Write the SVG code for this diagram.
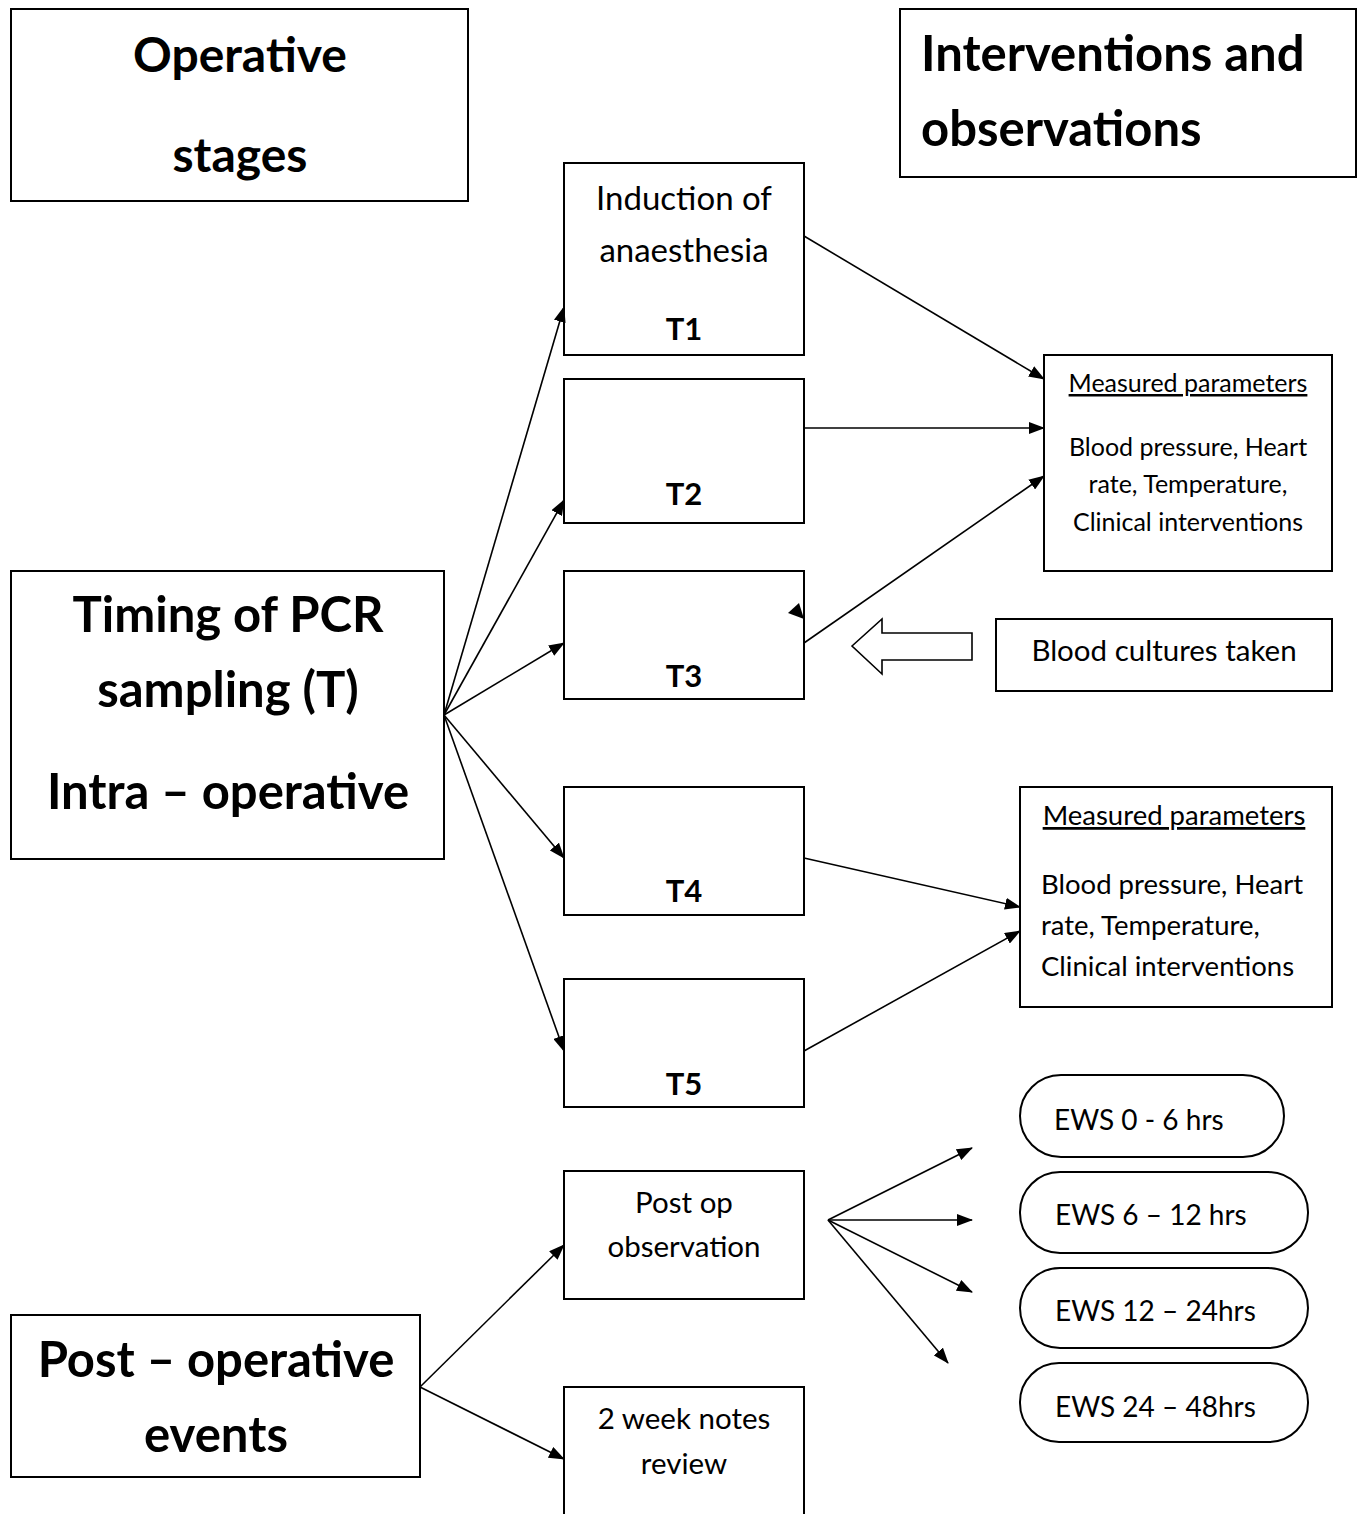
<svg xmlns="http://www.w3.org/2000/svg" width="1362" height="1514" viewBox="0 0 1362 1514">
<style>
text{font-family:Lato,"Open Sans","Liberation Sans",sans-serif;fill:#000}
.box{fill:#fff;stroke:#000;stroke-width:2}
.c{text-anchor:middle}
.b{font-weight:bold}
.ln{stroke:#000;stroke-width:1.6;fill:none;marker-end:url(#ah)}
</style>
<defs>
<marker id="ah" markerUnits="userSpaceOnUse" markerWidth="16" markerHeight="12" refX="15" refY="6" orient="auto">
<path d="M0,0 L16,6 L0,12 Z" fill="#000"/>
</marker>
</defs>
<rect width="1362" height="1514" fill="#fff"/>

<g id="operative-stages">
<rect class="box" x="11" y="9" width="457" height="192"/>
<text class="c b" x="240" y="72" font-size="48">Operative</text>
<text class="c b" x="240" y="172" font-size="48">stages</text>
</g>

<g id="interventions">
<rect class="box" x="900" y="9" width="456" height="168"/>
<text class="b" x="921" y="71" font-size="49">Interventions and</text>
<text class="b" x="921" y="146" font-size="49">observations</text>
</g>

<g id="timing">
<rect class="box" x="11" y="571" width="433" height="288"/>
<text class="c b" x="228" y="632" font-size="49">Timing of PCR</text>
<text class="c b" x="228" y="707" font-size="49">sampling (T)</text>
<text class="c b" x="228" y="809" font-size="49">Intra – operative</text>
</g>

<g id="post-operative">
<rect class="box" x="11" y="1315" width="409" height="162"/>
<text class="c b" x="216" y="1377" font-size="49">Post – operative</text>
<text class="c b" x="216" y="1452" font-size="49">events</text>
</g>

<g id="t1">
<rect class="box" x="564" y="163" width="240" height="192"/>
<text class="c" x="684" y="210" font-size="33">Induction of</text>
<text class="c" x="684" y="262" font-size="33">anaesthesia</text>
<text class="c b" x="684" y="340" font-size="31">T1</text>
</g>

<g id="t2">
<rect class="box" x="564" y="379" width="240" height="144"/>
<text class="c b" x="684" y="505" font-size="31">T2</text>
</g>

<g id="t3">
<rect class="box" x="564" y="571" width="240" height="128"/>
<text class="c b" x="684" y="687" font-size="31">T3</text>
<polygon points="804,619 788,613 799,603" fill="#000"/>
</g>

<g id="t4">
<rect class="box" x="564" y="787" width="240" height="128"/>
<text class="c b" x="684" y="902" font-size="31">T4</text>
</g>

<g id="t5">
<rect class="box" x="564" y="979" width="240" height="128"/>
<text class="c b" x="684" y="1095" font-size="31">T5</text>
</g>

<g id="post-op-observation">
<rect class="box" x="564" y="1171" width="240" height="128"/>
<text class="c" x="684" y="1213" font-size="29.5">Post op</text>
<text class="c" x="684" y="1257" font-size="29.5">observation</text>
</g>

<g id="two-week-review">
<rect class="box" x="564" y="1387" width="240" height="140"/>
<text class="c" x="684" y="1429" font-size="29.5">2 week notes</text>
<text class="c" x="684" y="1474" font-size="29.5">review</text>
</g>

<g id="measured-1">
<rect class="box" x="1044" y="355" width="288" height="216"/>
<text class="c" x="1188" y="392" font-size="25" text-decoration="underline">Measured parameters</text>
<text class="c" x="1188" y="456" font-size="25">Blood pressure, Heart</text>
<text class="c" x="1188" y="493" font-size="25">rate, Temperature,</text>
<text class="c" x="1188" y="531" font-size="25">Clinical interventions</text>
</g>

<g id="measured-2">
<rect class="box" x="1020" y="787" width="312" height="220"/>
<text class="c" x="1174" y="825" font-size="27.5" text-decoration="underline">Measured parameters</text>
<text x="1041" y="894" font-size="27.5">Blood pressure, Heart</text>
<text x="1041" y="935" font-size="27.5">rate, Temperature,</text>
<text x="1041" y="976" font-size="27.5">Clinical interventions</text>
</g>

<g id="blood-cultures">
<rect class="box" x="996" y="619" width="336" height="72"/>
<text class="c" x="1164" y="661" font-size="29.5">Blood cultures taken</text>
</g>

<g id="block-arrow">
<polygon points="852,646 882,619 882,633 972,633 972,660 882,660 882,674" fill="#fff" stroke="#000" stroke-width="1.6"/>
</g>

<g id="ews-0-6">
<rect class="box" x="1020" y="1075" width="264" height="82" rx="41"/>
<text x="1054" y="1130" font-size="28">EWS 0 - 6 hrs</text>
</g>
<g id="ews-6-12">
<rect class="box" x="1020" y="1172" width="288" height="81" rx="40"/>
<text x="1055" y="1225" font-size="28">EWS 6 – 12 hrs</text>
</g>
<g id="ews-12-24">
<rect class="box" x="1020" y="1268" width="288" height="80" rx="40"/>
<text x="1055" y="1321" font-size="28">EWS 12 – 24hrs</text>
</g>
<g id="ews-24-48">
<rect class="box" x="1020" y="1363" width="288" height="79" rx="39"/>
<text x="1055" y="1417" font-size="28">EWS 24 – 48hrs</text>
</g>

<g id="connectors">
<line class="ln" x1="444" y1="715" x2="564" y2="307"/>
<line class="ln" x1="444" y1="715" x2="564" y2="500"/>
<line class="ln" x1="444" y1="715" x2="564" y2="643"/>
<line class="ln" x1="444" y1="715" x2="564" y2="858"/>
<line class="ln" x1="444" y1="715" x2="564" y2="1051"/>
<line class="ln" x1="804" y1="236" x2="1044" y2="379"/>
<line class="ln" x1="804" y1="428" x2="1044" y2="428"/>
<line class="ln" x1="804" y1="643" x2="1044" y2="476"/>
<line class="ln" x1="804" y1="858" x2="1020" y2="907"/>
<line class="ln" x1="804" y1="1051" x2="1020" y2="931"/>
<line class="ln" x1="828" y1="1220" x2="972" y2="1148"/>
<line class="ln" x1="828" y1="1220" x2="972" y2="1220"/>
<line class="ln" x1="828" y1="1220" x2="972" y2="1292"/>
<line class="ln" x1="828" y1="1220" x2="948" y2="1363"/>
<line class="ln" x1="420" y1="1387" x2="564" y2="1245"/>
<line class="ln" x1="420" y1="1387" x2="564" y2="1459"/>
</g>
</svg>
